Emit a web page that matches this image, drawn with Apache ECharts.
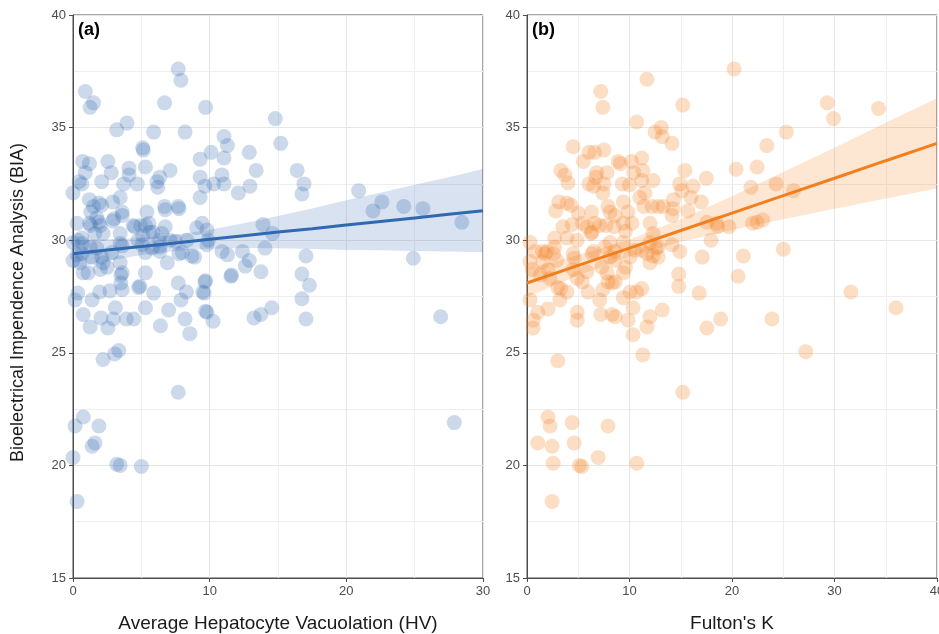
<!DOCTYPE html>
<html><head><meta charset="utf-8">
<script src="https://cdn.jsdelivr.net/npm/echarts@6/dist/echarts.min.js"></script>
<style>html,body{margin:0;padding:0;background:#fff}#c{width:939px;height:634px}</style>
</head><body><div id="c"></div>
<script>
// ---- data ----
const leftPoints = [
[7.7,37.6],[7.9,37.1],[0.9,36.6],[1.5,36.1],[1.25,35.9],[6.7,36.1],[9.7,35.9],[3.95,35.2],[3.2,34.9],[5.9,34.8],
[8.2,34.8],[14.8,35.4],[15.2,34.3],[11.05,34.6],[11.3,34.2],[10.1,33.9],[11.05,33.65],[12.9,33.9],[13.4,33.1],[16.4,33.1],
[16.9,32.5],[16.75,32.05],[10.9,32.9],[11.05,32.5],[10.3,32.5],[9.3,32.8],[9.3,31.9],[12.1,32.1],[12.95,32.4],[9.3,33.6],
[0.7,33.5],[1.2,33.4],[0.9,33.0],[2.55,33.5],[2.8,33.0],[2.1,32.6],[0.45,32.6],[0.65,32.5],[0.0,32.1],[4.1,33.2],
[4.1,32.9],[3.7,32.5],[4.7,32.5],[5.1,34.1],[5.15,34.0],[5.3,33.25],[6.15,32.6],[6.35,32.8],[7.1,33.1],[6.2,32.35],
[9.65,32.4],[1.2,31.8],[1.5,31.5],[1.3,31.25],[1.9,31.65],[2.1,31.55],[2.9,31.7],[3.45,31.9],[3.6,31.25],[5.4,31.25],
[6.7,31.5],[6.75,31.35],[7.7,31.5],[7.75,31.4],[0.3,30.75],[1.2,30.75],[1.3,30.65],[1.75,31.0],[1.9,30.8],[2.9,30.85],
[3.0,30.95],[3.6,31.1],[2.2,30.3],[1.6,30.3],[3.45,30.3],[4.4,30.65],[4.5,30.6],[4.95,30.65],[5.55,30.75],[5.1,30.2],
[6.75,30.6],[5.85,30.35],[6.35,30.0],[4.75,30.0],[7.1,30.0],[8.35,30.0],[9.45,30.75],[9.8,30.45],[0.0,29.9],[0.35,30.0],
[0.65,30.1],[2.0,30.65],[5.3,30.65],[5.6,30.35],[6.5,30.3],[9.05,30.55],[9.9,30.0],[0.7,29.85],[1.25,29.7],[1.75,29.65],
[3.45,29.85],[3.6,29.75],[5.05,29.8],[5.8,29.65],[6.35,29.7],[7.5,29.95],[8.0,29.45],[8.7,29.3],[8.9,29.25],[9.8,29.8],
[5.3,29.45],[2.85,29.45],[2.1,29.25],[1.4,29.25],[0.65,29.4],[0.3,29.35],[0.0,29.1],[0.5,29.0],[2.2,29.0],[3.45,29.0],
[2.5,28.8],[1.1,28.55],[0.75,28.55],[6.9,29.0],[5.3,28.55],[3.6,28.55],[2.0,28.7],[4.8,27.9],[4.9,27.95],[7.7,28.1],
[8.3,27.7],[7.9,27.35],[9.5,27.7],[9.65,28.15],[9.8,26.8],[8.2,26.5],[8.55,25.85],[6.4,26.2],[7.0,26.9],[5.3,27.0],
[5.9,27.65],[4.45,26.5],[3.9,26.5],[3.1,27.0],[2.95,26.5],[2.55,26.1],[2.05,26.55],[1.25,26.15],[0.75,26.7],[1.4,27.35],
[1.95,27.7],[0.35,27.65],[0.15,27.35],[2.7,27.75],[3.6,27.8],[3.5,28.1],[3.5,28.45],[7.75,29.4],[6.35,29.5],[2.2,24.7],
[3.05,24.95],[3.35,25.1],[7.7,23.25],[0.75,22.15],[0.15,21.75],[1.9,21.75],[1.6,21.0],[1.4,20.85],[0.0,20.35],[3.2,20.05],
[3.45,20.0],[5.0,19.95],[0.3,18.4],[27.9,21.9],[13.9,30.7],[14.6,30.3],[10.9,29.5],[11.3,29.35],[12.4,29.5],[14.05,29.65],
[17.05,29.3],[12.9,29.1],[12.6,28.85],[13.75,28.6],[11.55,28.4],[11.6,28.45],[9.7,28.2],[9.6,27.65],[16.75,28.5],[17.3,28.0],
[16.75,27.4],[17.05,26.5],[9.7,26.85],[10.25,26.4],[13.25,26.55],[13.75,26.7],[14.55,27.0],[20.9,32.2],[21.95,31.3],[22.6,31.7],
[24.2,31.5],[25.6,31.4],[28.45,30.8],[24.9,29.2],[26.9,26.6]
];
const rightPoints = [
[7.2,36.6],[7.4,35.9],[11.7,37.15],[10.7,35.25],[12.5,34.8],[13.1,35.0],[13.2,34.6],[4.5,34.15],[5.5,33.5],[6.05,33.9],
[6.6,33.9],[7.5,34.0],[8.9,33.5],[9.1,33.4],[10.2,33.5],[11.2,33.65],[3.3,33.1],[3.7,32.9],[4.0,32.55],[6.8,33.0],
[7.8,33.0],[6.7,32.8],[6.05,32.5],[6.5,32.4],[7.5,32.5],[7.4,32.1],[9.3,32.5],[10.0,32.45],[10.4,33.0],[11.3,33.1],
[11.2,32.65],[12.3,32.65],[11.5,32.1],[11.0,31.9],[11.4,31.5],[12.2,31.5],[12.8,31.5],[13.3,31.5],[9.4,31.7],[9.85,31.25],
[7.9,31.5],[8.1,31.25],[8.6,31.1],[6.3,31.25],[5.0,31.2],[4.3,31.55],[3.9,31.65],[3.1,31.7],[2.8,31.3],[3.5,30.6],
[4.4,30.7],[5.4,30.75],[5.85,30.6],[6.35,30.35],[6.6,30.75],[7.1,30.65],[6.25,30.3],[7.7,30.65],[8.5,30.6],[9.4,30.75],
[10.25,30.75],[9.6,30.4],[12.0,30.75],[12.3,30.3],[4.9,30.0],[3.9,30.1],[2.7,30.1],[1.95,29.5],[2.6,29.4],[2.7,29.7],
[0.3,29.9],[0.8,29.5],[1.5,29.5],[4.5,29.4],[6.5,29.5],[7.6,29.7],[8.1,29.9],[9.4,29.9],[8.6,29.5],[10.5,29.55],
[11.2,29.55],[11.7,29.4],[12.3,29.3],[12.8,29.7],[0.3,29.05],[0.5,28.7],[1.75,29.4],[1.55,29.05],[2.9,29.1],[2.05,28.7],
[1.3,28.45],[2.25,28.3],[3.0,27.9],[3.3,27.85],[3.9,27.7],[3.2,27.35],[0.3,27.35],[1.05,26.8],[2.05,26.95],[0.6,26.45],
[0.6,26.1],[4.6,29.2],[4.5,28.7],[4.9,28.3],[5.4,28.15],[5.85,28.6],[5.95,27.7],[4.9,26.8],[4.9,26.45],[7.1,27.35],
[7.2,26.7],[7.4,27.8],[7.9,28.15],[8.3,28.1],[8.6,28.15],[7.8,28.55],[8.6,29.1],[8.1,29.25],[8.3,26.7],[8.6,26.6],
[9.4,27.45],[9.4,28.55],[9.6,28.8],[9.85,26.45],[10.35,27.0],[10.35,25.8],[10.05,27.7],[10.7,27.7],[11.2,27.85],[10.05,29.25],
[11.3,24.9],[12.0,26.6],[11.7,26.15],[13.2,26.9],[12.0,29.0],[3.0,24.65],[7.3,28.8],[6.35,29.4],[2.05,22.15],[2.25,21.75],
[4.4,21.9],[7.9,21.75],[1.05,21.0],[2.45,20.85],[4.6,21.0],[6.95,20.35],[2.55,20.1],[5.1,20.0],[5.35,19.95],[10.7,20.1],
[2.45,18.4],[20.2,37.6],[15.2,36.0],[14.15,34.3],[25.3,34.8],[23.4,34.2],[15.4,33.1],[14.9,32.5],[17.5,32.75],[16.2,32.4],
[15.1,32.2],[20.4,33.15],[22.45,33.25],[21.85,32.35],[24.3,32.5],[26.0,32.2],[16.0,31.9],[17.0,31.7],[14.3,31.8],[14.25,31.4],
[15.7,31.3],[14.15,31.1],[17.55,30.8],[18.5,30.75],[18.6,30.6],[19.7,30.6],[22.0,30.75],[22.45,30.8],[23.0,30.9],[12.0,29.9],
[14.15,29.8],[14.9,29.5],[17.95,30.0],[17.1,29.25],[21.1,29.3],[25.0,29.6],[12.6,29.65],[12.8,29.25],[14.8,28.5],[14.8,27.95],
[20.6,28.4],[16.8,27.65],[18.9,26.5],[17.55,26.1],[23.9,26.5],[15.2,23.25],[29.3,36.1],[29.9,35.4],[34.3,35.85],[31.6,27.7],
[36.0,27.0],[27.2,25.05]
];
// regression fits and confidence bands
const leftBandX   = [0, 2.5, 5, 7.5, 10, 12.5, 15, 17.5, 20, 22.5, 25, 27.5, 30];
const leftFit     = [29.40, 29.56, 29.72, 29.88, 30.04, 30.20, 30.36, 30.51, 30.67, 30.83, 30.99, 31.15, 31.31];
const leftLower   = [28.78, 29.08, 29.34, 29.52, 29.62, 29.65, 29.64, 29.61, 29.57, 29.55, 29.52, 29.50, 29.46];
const leftUpper   = [30.02, 30.04, 30.10, 30.24, 30.46, 30.75, 31.08, 31.41, 31.77, 32.11, 32.46, 32.80, 33.16];
const rightBandX  = [0, 5, 10, 15, 20, 25, 30, 35, 40];
const rightFit    = [28.10, 28.88, 29.65, 30.43, 31.20, 31.98, 32.75, 33.53, 34.30];
const rightLower  = [27.48, 28.43, 29.27, 29.93, 30.45, 30.93, 31.40, 31.85, 32.30];
const rightUpper  = [28.72, 29.33, 30.03, 30.93, 31.95, 33.03, 34.10, 35.21, 36.30];
const yTicks = [15, 20, 25, 30, 35, 40];
const leftXTicks = [0, 10, 20, 30];
const rightXTicks = [0, 10, 20, 30, 40];
const yTitle = 'Bioelectrical Impendence Analysis (BIA)';
const leftXTitle = 'Average Hepatocyte Vacuolation (HV)';
const rightXTitle = "Fulton's K";
const panelLabels = ['(a)', '(b)'];

// ---- chart ----
const FONT = 'Liberation Sans, Arial, sans-serif';
const BLUE = '#2f69b1', ORANGE = '#f27f1f';
const chart = echarts.init(document.getElementById('c'), null, {renderer: 'canvas'});

function bandSeries(idx, xs, lo, hi, color) {
  return {
    type: 'custom', xAxisIndex: idx, yAxisIndex: idx, silent: true, z: 1,
    data: [0],
    renderItem: function (params, api) {
      const pts = [];
      for (let i = 0; i < xs.length; i++) pts.push(api.coord([xs[i], hi[i]]));
      for (let i = xs.length - 1; i >= 0; i--) pts.push(api.coord([xs[i], lo[i]]));
      return {type: 'polygon', shape: {points: pts}, style: {fill: color}};
    }
  };
}
function xAxis(idx, max, name, ticks) {
  return {
    type: 'value', gridIndex: idx, min: 0, max: max, interval: 10,
    name: name, nameLocation: 'middle', nameGap: 36,
    nameTextStyle: {fontFamily: FONT, fontSize: 19, color: '#1a1a1a'},
    axisLine: {show: true, onZero: false, lineStyle: {color: '#4d4d4d', width: 1}},
    axisTick: {show: true, length: 4, lineStyle: {color: '#4d4d4d'}},
    axisLabel: {fontFamily: FONT, fontSize: 13, color: '#4d4d4d', margin: 7,
      formatter: v => ticks.indexOf(v) >= 0 ? String(v) : ''},
    splitLine: {show: true, lineStyle: {color: '#e6e6e6', width: 1}},
    minorTick: {show: false, splitNumber: 2},
    minorSplitLine: {show: true, lineStyle: {color: '#eeeeee', width: 1}}
  };
}
function yAxis(idx, withName) {
  return {
    type: 'value', gridIndex: idx, min: 15, max: 40, interval: 5,
    name: withName ? yTitle : '', nameLocation: 'middle', nameGap: 46, nameRotate: 90,
    nameTextStyle: {fontFamily: FONT, fontSize: 18, color: '#1a1a1a', padding: [0, 12, 0, 0]},
    axisLine: {show: true, onZero: false, lineStyle: {color: '#4d4d4d', width: 1}},
    axisTick: {show: true, length: 4, lineStyle: {color: '#4d4d4d'}},
    axisLabel: {fontFamily: FONT, fontSize: 13, color: '#4d4d4d', margin: 7,
      formatter: v => yTicks.indexOf(v) >= 0 ? String(v) : ''},
    splitLine: {show: true, lineStyle: {color: '#e6e6e6', width: 1}},
    minorTick: {show: false, splitNumber: 2},
    minorSplitLine: {show: true, lineStyle: {color: '#eeeeee', width: 1}}
  };
}

chart.setOption({
  animation: false,
  backgroundColor: '#fff',
  grid: [
    {left: 73, top: 15, width: 410, height: 563, outerBoundsMode: 'none', containLabel: false,
      show: true, borderColor: '#4d4d4d', borderWidth: 1, backgroundColor: 'transparent'},
    {left: 527, top: 15, width: 410, height: 563, outerBoundsMode: 'none', containLabel: false,
      show: true, borderColor: '#4d4d4d', borderWidth: 1, backgroundColor: 'transparent'}
  ],
  xAxis: [xAxis(0, 30, leftXTitle, leftXTicks), xAxis(1, 40, rightXTitle, rightXTicks)],
  yAxis: [yAxis(0, true), yAxis(1, false)],
  graphic: [
    {type: 'text', left: 78, top: 21, style: {text: panelLabels[0], font: 'bold 18px ' + FONT, fill: '#000'}},
    {type: 'text', left: 532, top: 21, style: {text: panelLabels[1], font: 'bold 18px ' + FONT, fill: '#000'}}
  ],
  series: [
    {type: 'scatter', xAxisIndex: 0, yAxisIndex: 0, data: leftPoints, symbolSize: 15, z: 2,
      itemStyle: {color: 'rgba(58,111,180,0.33)'}, silent: true},
    bandSeries(0, leftBandX, leftLower, leftUpper, 'rgba(58,111,180,0.2)'),
    {type: 'line', xAxisIndex: 0, yAxisIndex: 0, data: leftBandX.map((x, i) => [x, leftFit[i]]),
      showSymbol: false, lineStyle: {color: BLUE, width: 3}, z: 3, silent: true},
    {type: 'scatter', xAxisIndex: 1, yAxisIndex: 1, data: rightPoints, symbolSize: 15, z: 2,
      itemStyle: {color: 'rgba(244,129,31,0.32)'}, silent: true},
    bandSeries(1, rightBandX, rightLower, rightUpper, 'rgba(244,129,31,0.2)'),
    {type: 'line', xAxisIndex: 1, yAxisIndex: 1, data: rightBandX.map((x, i) => [x, rightFit[i]]),
      showSymbol: false, lineStyle: {color: ORANGE, width: 3}, z: 3, silent: true}
  ]
});
</script></body></html>
